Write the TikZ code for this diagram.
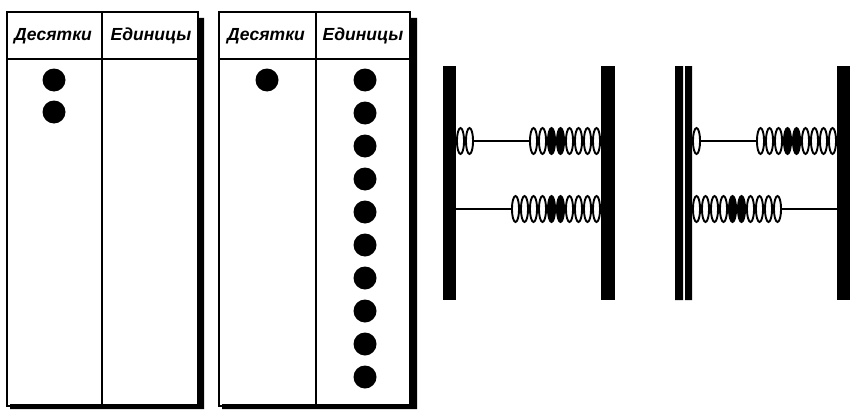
\documentclass[tikz,border=0pt]{standalone}
\usepackage{fontspec}
\setmainfont{Liberation Sans}
\usetikzlibrary{shapes.geometric}

\begin{document}
\begin{tikzpicture}
	[x=1pt, y=-1pt,
	 frame/.style={line width=2pt},
	 header/.style={font=\bfseries\itshape\fontsize{17.5}{17.5}\selectfont, inner sep=0pt},
	 counter/.style={circle, fill=black, minimum size=23pt, inner sep=0pt},
	 rod/.style={line width=1.5pt},
	 bead/.style={ellipse, draw, line width=1.9pt, fill=white, minimum width=7.1pt, minimum height=26pt, inner sep=0pt},
	 darkbead/.style={bead, fill=black}]

	\useasboundingbox (0,0) rectangle (850,412);

	% place-value tables
	\draw[frame] (7,12) rectangle (198,406);
	\draw[frame] (7,59) -- (198,59) (102,12) -- (102,406);
	\fill (197,18) rectangle (204,409) (10,404) rectangle (204,409);
	\draw[frame] (219,12) rectangle (410,406);
	\draw[frame] (219,59) -- (410,59) (316,12) -- (316,406);
	\fill (409,18) rectangle (417,409) (222,404) rectangle (417,409);

	\node[header] (tensA) at (53,36) {Десятки};
	\node[header] (unitsA) at (151,36) {Единицы};
	\node[header] (tensB) at (266,36) {Десятки};
	\node[header] (unitsB) at (363,36) {Единицы};

	% counters: 20 and 19
	\foreach \k in {0,1}
		\node[counter] (cA\k) at (54,80+32*\k) {};
	\node[counter] (cB) at (267,80) {};
	\foreach \k in {0,...,9}
		\node[counter] (uB\k) at (365,80+33*\k) {};

	% first abacus
	\draw[rod] (456,141) -- (601,141) (456,209) -- (601,209);
	\foreach \i in {0,1}
		\node[bead] (aTl\i) at (460.5+9*\i,141) {};
	\foreach \i in {0,...,3,6,7}
		\node[bead] (aTr\i) at (596.5-9*\i,141) {};
	\foreach \i in {4,5}
		\node[darkbead] (aTr\i) at (596.5-9*\i,141) {};
	\foreach \i in {0,...,3,6,7,8,9}
		\node[bead] (aB\i) at (596.5-9*\i,209) {};
	\foreach \i in {4,5}
		\node[darkbead] (aB\i) at (596.5-9*\i,209) {};
	\fill (443,66) rectangle (456,300);
	\fill (601,66) rectangle (615,300);

	% second abacus
	\draw[rod] (692,141) -- (837,141) (692,209) -- (837,209);
	\node[bead] (bTl) at (696.5,141) {};
	\foreach \i in {0,...,3,6,7,8}
		\node[bead] (bTr\i) at (832.5-9*\i,141) {};
	\foreach \i in {4,5}
		\node[darkbead] (bTr\i) at (832.5-9*\i,141) {};
	\foreach \i in {0,...,3,6,7,8,9}
		\node[bead] (bB\i) at (696.5+9*\i,209) {};
	\foreach \i in {4,5}
		\node[darkbead] (bB\i) at (696.5+9*\i,209) {};
	\fill (675,66) rectangle (683,300) (685,66) rectangle (692,300);
	\fill (837,66) rectangle (850,300);
\end{tikzpicture}
\end{document}
